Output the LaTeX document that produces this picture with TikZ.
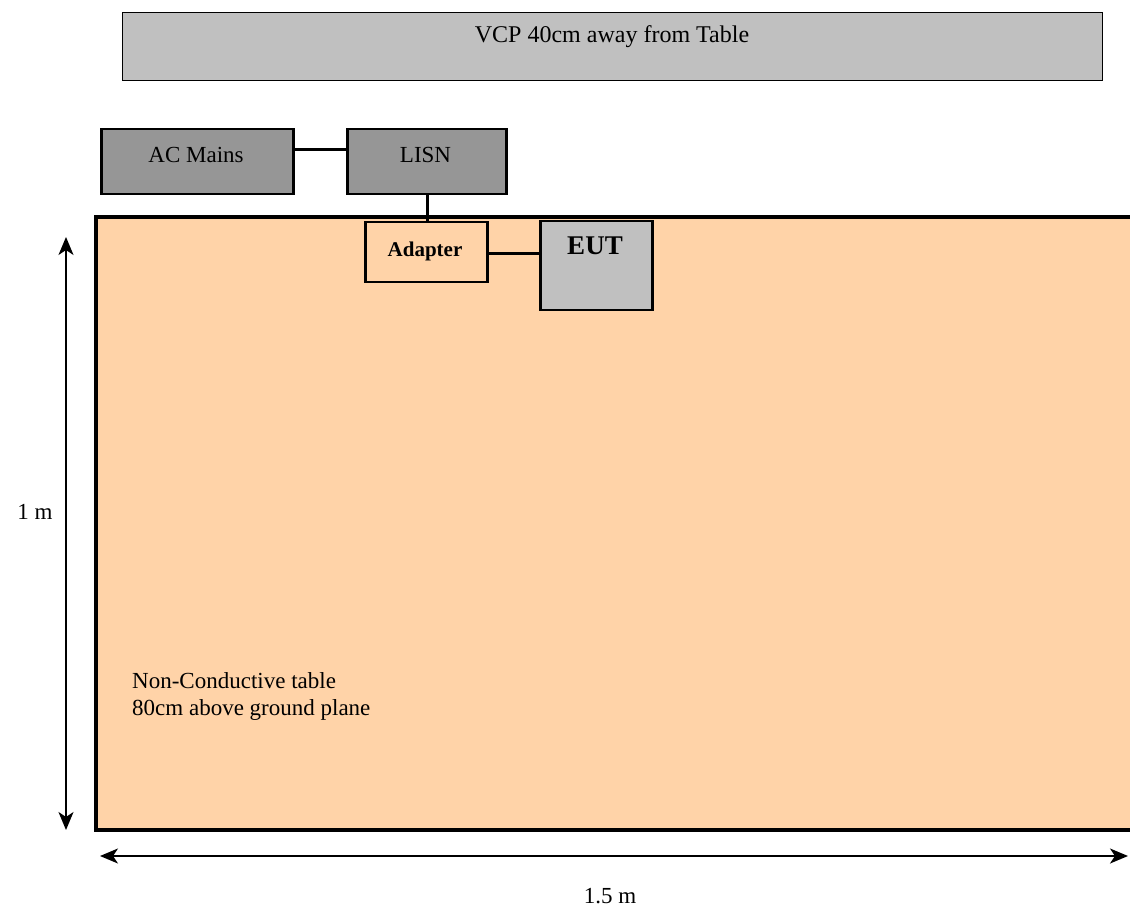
\documentclass[tikz,border=0pt]{standalone}
\usepackage{fontspec}
\setmainfont{Liberation Serif}
\usetikzlibrary{arrows.meta}
\definecolor{peach}{HTML}{FFD3A8}
\definecolor{lgray}{HTML}{C0C0C0}
\definecolor{dgray}{HTML}{969696}
\begin{document}
\begin{tikzpicture}[x=1pt,y=-1pt,
  box/.style={draw=black, line width=2.5pt, anchor=north west, inner sep=0pt},
  wire/.style={line width=3pt},
  dim/.style={line width=2pt, {Stealth[length=18pt,width=15pt,inset=5pt]}-{Stealth[length=18pt,width=15pt,inset=5pt]}},
  lbl/.style={font=\fontsize{23}{27}\selectfont, inner sep=0pt}
]
\useasboundingbox (0,0) rectangle (1130,909);
% table
\fill[peach] (96,217) rectangle (1135,830);
\draw[line width=3.5pt] (1135,217) -- (96,217) -- (96,830) -- (1135,830);
% VCP
\node[box, line width=1.2pt, fill=lgray, minimum width=980pt, minimum height=68pt] (vcp) at (122,12) {};
\node[lbl, font=\fontsize{24}{28}\selectfont] (vcptext) at (612,37) {VCP 40cm away from Table};
% AC Mains, LISN
\node[box, fill=dgray, minimum width=192pt, minimum height=65pt] (ac) at (100,128) {};
\node[lbl] (actext) at (196,155) {AC Mains};
\node[box, fill=dgray, minimum width=159pt, minimum height=65pt] (lisn) at (346,128) {};
\node[lbl] (lisntext) at (425.5,155) {LISN};
% Adapter, EUT
\node[box, minimum width=122pt, minimum height=60pt] (adapter) at (364,221) {};
\node[lbl, font=\fontsize{21}{24}\selectfont\bfseries] (adtext) at (425,251) {Adapter};
\node[box, fill=lgray, minimum width=112pt, minimum height=89pt] (eut) at (539,220) {};
\node[lbl, font=\fontsize{27}{30}\selectfont\bfseries] (euttext) at (595,246) {EUT};
% wires
\draw[wire] (ac.east |- 0,150) -- (lisn.west |- 0,150);
\draw[wire] (lisn.south -| 427,0) -- (adapter.north -| 427,0);
\draw[wire] (adapter.east |- 0,254) -- (eut.west |- 0,254);
% dimensions
\coordinate (vtop) at (66,237);
\coordinate (vbot) at (66,830);
\draw[dim] (vtop) -- (vbot);
\node[lbl] (onem) at (35,512) {1 m};
\coordinate (hl) at (100,856);
\coordinate (hr) at (1128,856);
\draw[dim] (hl) -- (hr);
\node[lbl] (onefive) at (610,896) {1.5 m};
% table text
\node[lbl, anchor=west] (t1) at (132,681) {Non-Conductive table};
\node[lbl, anchor=west] (t2) at (132,710) {80cm above ground plane};
\end{tikzpicture}
\end{document}
